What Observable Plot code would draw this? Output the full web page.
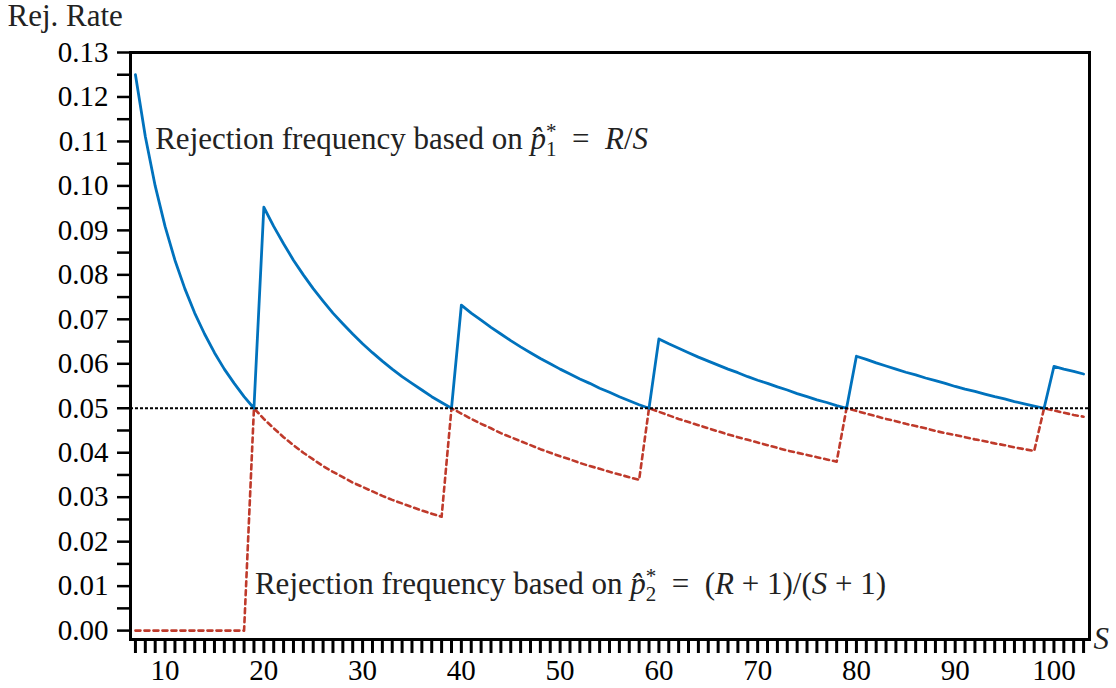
<!DOCTYPE html>
<html><head><meta charset="utf-8">
<script src="https://cdn.jsdelivr.net/npm/d3@7"></script>
<script src="https://cdn.jsdelivr.net/npm/@observablehq/plot@0.6"></script>
<style>body{margin:0;background:#fff;} #chart svg{display:block;} #chart svg text{font-family:"Liberation Serif", serif;}</style>
</head><body><div id="chart"></div>
<script>
// Number of simulations S
const S = [7,8,9,10,11,12,13,14,15,16,17,18,19,20,21,22,23,24,25,26,27,28,29,30,31,32,33,34,35,36,37,38,39,40,41,42,43,44,45,46,47,48,49,50,51,52,53,54,55,56,57,58,59,60,61,62,63,64,65,66,67,68,69,70,71,72,73,74,75,76,77,78,79,80,81,82,83,84,85,86,87,88,89,90,91,92,93,94,95,96,97,98,99,100,101,102,103];
// Rejection rate based on p1* = R/S (blue, solid)
const rejRateRS = [
  .1250,.1111,.1000,.0909,.0833,.0769,.0714,.0667,.0625,.0588,.0556,.0526,.0500,
  .0952,.0909,.0870,.0833,.0800,.0769,.0741,.0714,.0690,.0667,.0645,.0625,.0606,.0588,.0571,.0556,.0541,.0526,.0513,.0500,
  .0732,.0714,.0698,.0682,.0667,.0652,.0638,.0625,.0612,.0600,.0588,.0577,.0566,.0556,.0545,.0536,.0526,.0517,.0508,.0500,
  .0656,.0645,.0635,.0625,.0615,.0606,.0597,.0588,.0580,.0571,.0563,.0556,.0548,.0541,.0533,.0526,.0519,.0513,.0506,.0500,
  .0617,.0610,.0602,.0595,.0588,.0581,.0575,.0568,.0562,.0556,.0549,.0543,.0538,.0532,.0526,.0521,.0515,.0510,.0505,.0500,
  .0594,.0588,.0583,.0577];
// Rejection rate based on p2* = (R+1)/(S+1) (red, dashed)
const rejRateR1S1 = [
  0,0,0,0,0,0,0,0,0,0,0,0,
  .0500,.0476,.0455,.0435,.0417,.0400,.0385,.0370,.0357,.0345,.0333,.0323,.0313,.0303,.0294,.0286,.0278,.0270,.0263,.0256,
  .0500,.0488,.0476,.0465,.0455,.0444,.0435,.0426,.0417,.0408,.0400,.0392,.0385,.0377,.0370,.0364,.0357,.0351,.0345,.0339,
  .0500,.0492,.0484,.0476,.0469,.0462,.0455,.0448,.0441,.0435,.0429,.0423,.0417,.0411,.0405,.0400,.0395,.0390,.0385,.0380,
  .0500,.0494,.0488,.0482,.0476,.0471,.0465,.0460,.0455,.0449,.0444,.0440,.0435,.0430,.0426,.0421,.0417,.0412,.0408,.0404,
  .0500,.0495,.0490,.0485,.0481];
const nominalLevel = [0.05];
const xTickLabels = [10,20,30,40,50,60,70,80,90,100];
const yTickLabels = [0,0.01,0.02,0.03,0.04,0.05,0.06,0.07,0.08,0.09,0.10,0.11,0.12,0.13];
const annotationText = [
  "Rejection frequency based on p1* = R/S",
  "Rejection frequency based on p2* = (R+1)/(S+1)"
];
const annotationS = [9.0, 19.1];
const annotationY = [0.1106, 0.0105];

const data = S.map((s, i) => ({S: s, p1: rejRateRS[i], p2: rejRateR1S1[i]}));
const annotations = annotationText.map((t, i) => ({S: annotationS[i], y: annotationY[i], text: t}));
const xMinor = S.slice();
const yMinor = d3.range(0, 27).map(i => i * 0.005);

const FONT = "Liberation Serif";
const BLUE = "#0072bd";
const RED = "#bf3a2b";

const chart = Plot.plot({
  width: 1116, height: 688,
  marginLeft: 130, marginRight: 27, marginTop: 52, marginBottom: 49,
  style: {fontFamily: FONT, fontSize: "29px", background: "white", color: "black"},
  x: {domain: [6.5, 103.6]},
  y: {domain: [-0.002, 0.13]},
  marks: [
    Plot.axisX({ticks: xMinor, tickSize: 14, tickPadding: 6, strokeWidth: 3,
      tickFormat: d => xTickLabels.includes(d) ? String(d) : "", fontSize: 29, fontFamily: FONT, label: null}),
    Plot.axisY({ticks: yMinor, tickSize: 13, tickPadding: 9, strokeWidth: 2.5,
      tickFormat: d => { const l = yTickLabels.find(v => Math.abs(v - d) < 1e-9); return l === undefined ? "" : l.toFixed(2); },
      fontSize: 29, fontFamily: FONT, label: null}),
    Plot.line(data, {x: "S", y: "p2", stroke: RED, strokeWidth: 2.6, strokeDasharray: "5,4"}),
    Plot.line(data, {x: "S", y: "p1", stroke: BLUE, strokeWidth: 2.8}),
    Plot.ruleY(nominalLevel, {stroke: "black", strokeWidth: 2, strokeDasharray: "3,2"}),
    Plot.frame({strokeWidth: 3}),
    Plot.text(annotations, {x: "S", y: "y", text: "text", textAnchor: "start", lineAnchor: "middle", fontSize: 31, fontFamily: FONT, fill: "#222"}),
    Plot.text(["Rej. Rate"], {frameAnchor: "top-left", dx: -123, dy: -36, textAnchor: "start", lineAnchor: "middle", fontSize: 31, fontFamily: FONT, fill: "#222"}),
    Plot.text(["S"], {frameAnchor: "bottom-right", dx: 4, dy: 0, textAnchor: "start", lineAnchor: "middle", fontStyle: "italic", fontSize: 31, fontFamily: FONT, fill: "#222"})
  ]
});

const markup = {
  [annotationText[0]]: 'Rejection frequency based on <tspan font-style="italic">p\u0302</tspan><tspan font-size="21" dy="7">1</tspan><tspan font-size="21" dx="-10.5" dy="-18">*</tspan><tspan dy="11">\u2002=\u2002</tspan><tspan font-style="italic">R</tspan>/<tspan font-style="italic">S</tspan>',
  [annotationText[1]]: 'Rejection frequency based on <tspan font-style="italic">p\u0302</tspan><tspan font-size="21" dy="7">2</tspan><tspan font-size="21" dx="-10.5" dy="-18">*</tspan><tspan dy="11">\u2002=\u2002(</tspan><tspan font-style="italic">R</tspan>\u2005+\u20051)/(<tspan font-style="italic">S</tspan>\u2005+\u20051)'
};
chart.querySelectorAll("text").forEach(t => {
  const m = markup[t.textContent];
  if (m) t.innerHTML = m;
});
document.getElementById("chart").appendChild(chart);
</script>
</body></html>
